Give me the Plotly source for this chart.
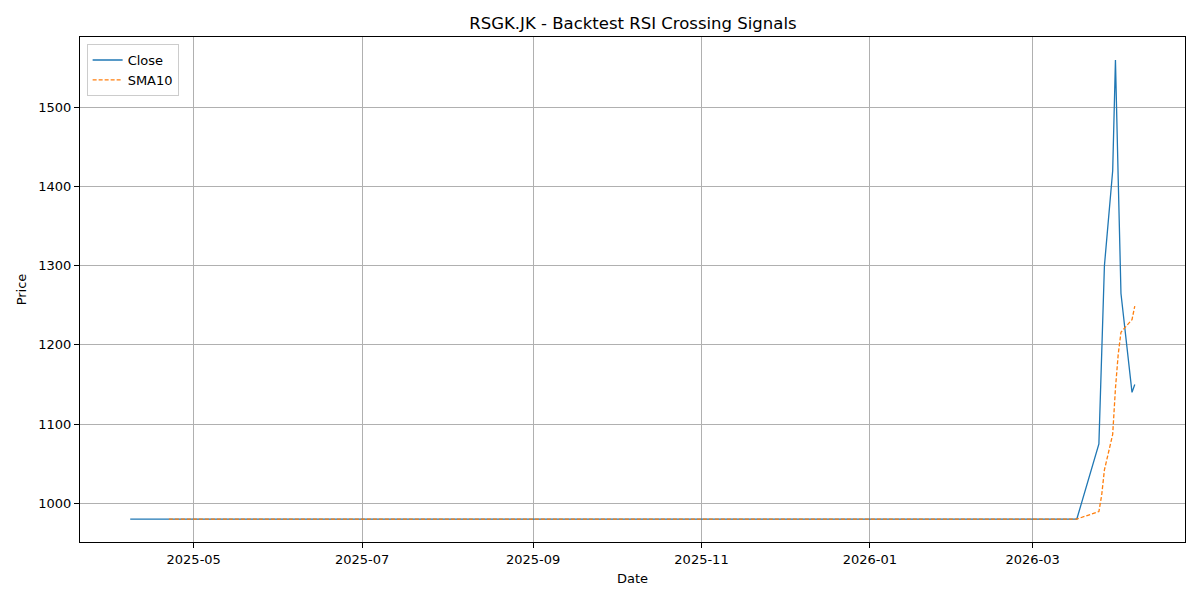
import plotly.graph_objects as go

# --- data (line vertices only) ----------------------------------------------
close_dates = ["2025-04-08", "2026-03-17", "2026-03-25", "2026-03-26", "2026-03-27",
               "2026-03-30", "2026-03-31", "2026-04-01", "2026-04-02", "2026-04-06",
               "2026-04-07"]
close_vals = [980, 980, 1075, 1190, 1300, 1420, 1560, 1410, 1265, 1140, 1150]

sma_dates = ["2025-04-22", "2026-03-17", "2026-03-25", "2026-03-26", "2026-03-27",
             "2026-03-30", "2026-03-31", "2026-04-01", "2026-04-02", "2026-04-06",
             "2026-04-07"]
sma_vals = [980, 980, 989.5, 1010, 1042, 1087, 1145, 1188, 1216, 1232, 1249]

x_ticks = ["2025-05-01", "2025-07-01", "2025-09-01", "2025-11-01", "2026-01-01", "2026-03-01"]
x_labels = ["2025-05", "2025-07", "2025-09", "2025-11", "2026-01", "2026-03"]
y_ticks = [1000, 1100, 1200, 1300, 1400, 1500]

FONT = "DejaVu Sans"

fig = go.Figure()
fig.add_trace(go.Scatter(
    x=close_dates, y=close_vals, mode="lines", name="Close",
    line=dict(color="#1f77b4", width=1.3),
))
fig.add_trace(go.Scatter(
    x=sma_dates, y=sma_vals, mode="lines", name="SMA10",
    line=dict(color="#ff7f0e", width=1.3, dash="4px,2px"),
))

axis_common = dict(
    showgrid=True, gridcolor="#b0b0b0", gridwidth=0.8,
    showline=True, linecolor="black", linewidth=1, mirror=True,
    ticks="outside", ticklen=5, tickcolor="black", tickwidth=1,
    zeroline=False, tickfont=dict(family=FONT, size=13, color="black"),
)

# the page puts the figure 8px in from the top-left corner, margins allow for it
fig.update_layout(
    width=1200, height=600,
    plot_bgcolor="white", paper_bgcolor="white",
    margin=dict(l=72, r=23, t=29, b=66),
    font=dict(family=FONT, size=13, color="black"),
    title=dict(text="RSGK.JK - Backtest RSI Crossing Signals", x=0.5208, xanchor="center",
               y=0.975, yanchor="middle", font=dict(family=FONT, size=16.5, color="black")),
    xaxis=dict(range=["2025-03-20 19:12", "2026-04-25 04:48"], tickvals=x_ticks,
               ticktext=x_labels,
               title=dict(text="Date", font=dict(family=FONT, size=13), standoff=8),
               **axis_common),
    yaxis=dict(range=[951, 1589], tickvals=y_ticks,
               title=dict(text="Price", font=dict(family=FONT, size=13), standoff=8),
               **axis_common),
    legend=dict(x=0.006, y=0.986, xanchor="left", yanchor="top",
                bgcolor="rgba(255,255,255,0.8)", bordercolor="#cccccc", borderwidth=1,
                font=dict(family=FONT, size=13), tracegroupgap=0),
    showlegend=True,
)

fig.write_html("out.html")
